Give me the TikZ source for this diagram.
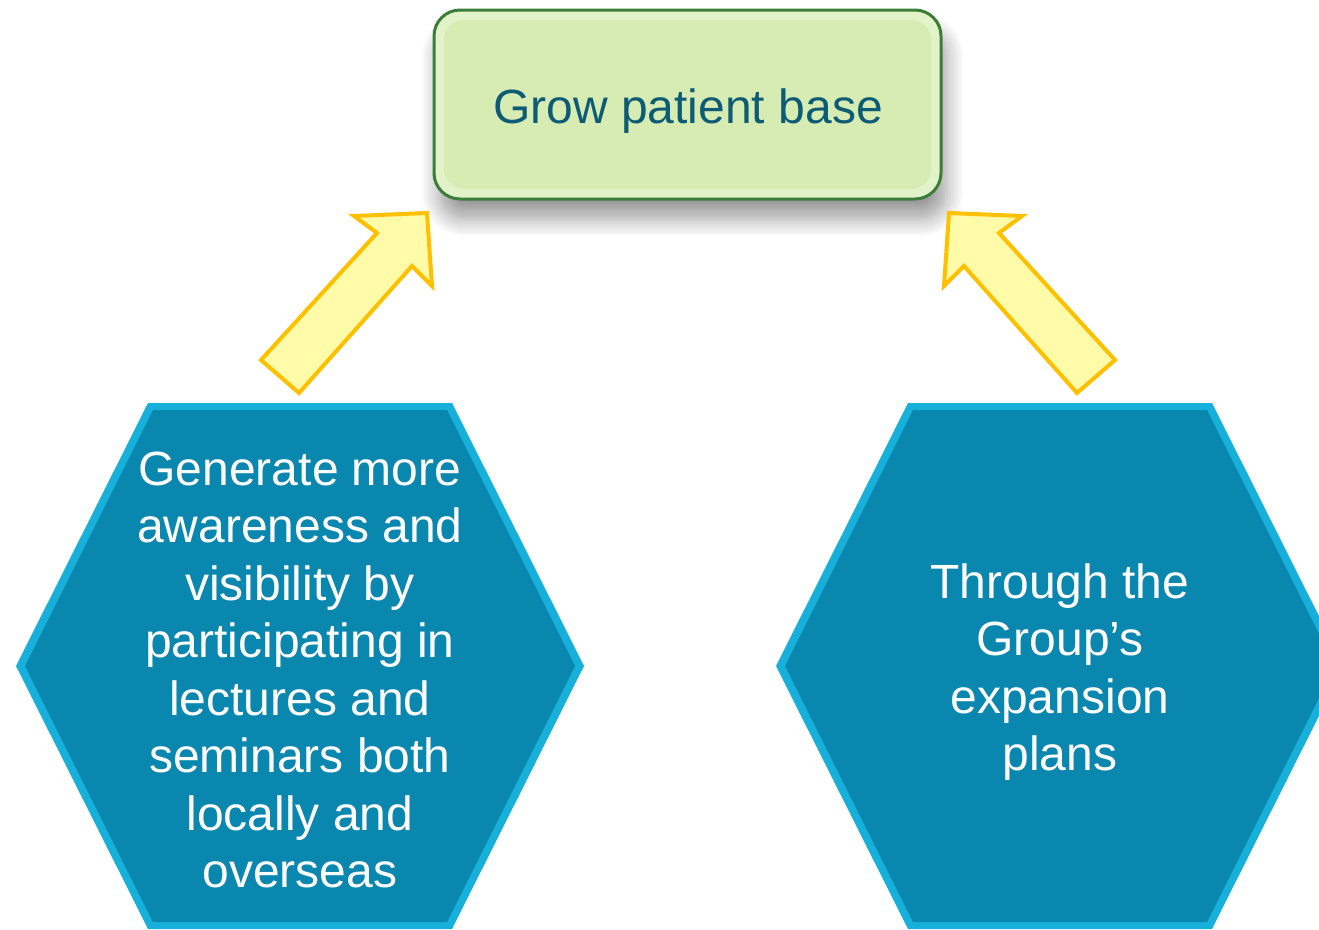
\documentclass[tikz,border=0pt]{standalone}
\usepackage{fontspec}
\setmainfont{Liberation Sans}
\usepackage{tikz}
\usetikzlibrary{shapes,arrows.meta,shadows.blur}
\definecolor{boxfill}{HTML}{D6ECB3}
\definecolor{boxedge}{HTML}{E2F2C9}
\definecolor{boxline}{HTML}{3C7D3A}
\definecolor{boxtext}{HTML}{0D5B74}
\definecolor{hexrim}{HTML}{17B0DA}
\definecolor{hexfill}{HTML}{0A87AF}
\definecolor{arrfill}{HTML}{FFFBA8}
\definecolor{arrline}{HTML}{FFC000}

\begin{document}
\begin{tikzpicture}[x=1pt, y=-1pt,
	goalbox/.style={draw=boxline, line width=3, fill=boxedge, rounded corners=26, minimum width=507, minimum height=189, inner sep=0, blur shadow={shadow xshift=5, shadow yshift=-20, shadow blur radius=18, shadow blur steps=12, shadow opacity=40}},
	goaltext/.style={text=boxtext, inner sep=0, font=\fontsize{48}{57}\selectfont},
	hextext/.style={text=white, align=center, inner sep=0, font=\fontsize{48}{57.5}\selectfont},
	uparrow/.style={draw=arrline, fill=arrfill, line width=4, line join=miter}
]
\useasboundingbox (0,0) rectangle (1319,929);
\clip (0,0) rectangle (1319,929);

\foreach \cx in {300,1060} {
	\fill[hexrim, shift={(\cx,666)}] (-284,0) -- (-152,-263) -- (152,-263) -- (284,0) -- (152,263) -- (-152,263) -- cycle;
	\fill[hexfill, shift={(\cx,666)}] (-275,0) -- (-147,-256) -- (147,-256) -- (275,0) -- (147,256) -- (-147,256) -- cycle;
}

\node[goalbox] (grow) at (687.5,104.5) {};
\fill[boxfill, rounded corners=20] (444,20) rectangle (931,189);
\node[goaltext] (growtext) at (688,111) {Grow patient base};

\node[hextext] (aware) at (300,670) {Generate more\\awareness and\\visibility by\\participating in\\lectures and\\seminars both\\locally and\\overseas};
\node[hextext] (expand) at (1060,672) {Through the\\Group’s\\expansion\\plans};

\draw[uparrow] (261,360) -- (377,233) -- (354,216) -- (427,213) -- (432,286) -- (412,266) -- (299,393) -- cycle;
\draw[uparrow, xshift=1376, xscale=-1] (261,360) -- (377,233) -- (354,216) -- (427,213) -- (432,286) -- (412,266) -- (299,393) -- cycle;
\end{tikzpicture}
\end{document}
